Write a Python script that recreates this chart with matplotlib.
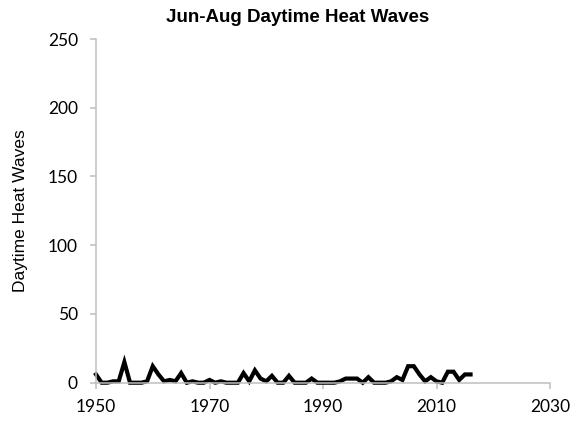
import matplotlib
matplotlib.use("Agg")
import matplotlib.pyplot as plt

years = list(range(1950, 2017))
heat_waves = [
    6, 0, 0, 1, 1, 15, 0, 0, 0, 1,
    12, 6, 1, 2, 1, 7, 0, 1, 0, 0,
    2, 0, 1, 0, 0, 0, 7, 1, 9, 3,
    1, 5, 0, 0, 5, 0, 0, 0, 3, 0,
    0, 0, 0, 1, 3, 3, 3, 0, 4, 0,
    0, 0, 1, 4, 2, 12, 12, 6, 1, 4,
    1, 0, 8, 8, 2, 6, 6,
]
x_ticks = [1950, 1970, 1990, 2010, 2030]
y_ticks = [0, 50, 100, 150, 200, 250]
title = "Jun-Aug Daytime Heat Waves"
y_label = "Daytime Heat Waves"

fig = plt.figure(figsize=(5.8, 4.24), dpi=100)
ax = fig.add_axes([96/580, 1-382.7/424, (550-96)/580, (382.7-39)/424])

ax.plot(years, heat_waves, color="black", lw=3.0, solid_joinstyle="miter", clip_on=False)

ax.set_xlim(1950, 2030)
ax.set_ylim(0, 250)
ax.set_xticks(x_ticks)
ax.set_yticks(y_ticks)

grey = "#BFBFBF"
for s in ["top", "right"]:
    ax.spines[s].set_visible(False)
for s in ["left", "bottom"]:
    ax.spines[s].set_color(grey)
    ax.spines[s].set_linewidth(1.1)
ax.tick_params(axis="both", direction="out", length=4, width=1.1, color=grey,
               labelsize=12.5, labelcolor="black")
ax.tick_params(axis="y", pad=9)
ax.tick_params(axis="x", pad=8)
for lab in ax.get_xticklabels() + ax.get_yticklabels():
    lab.set_family(["Lato", "DejaVu Sans"])

ax.set_ylabel(y_label, fontsize=12.5, family=["Liberation Sans", "DejaVu Sans"])
ax.yaxis.set_label_coords(-(96-28)/454, 0.5)

fig.text(298/580, 1-17/424, title, ha="center", va="center", fontsize=13.5,
         fontweight="bold", family=["Liberation Sans", "DejaVu Sans"])

fig.savefig("out.png", dpi=100)
